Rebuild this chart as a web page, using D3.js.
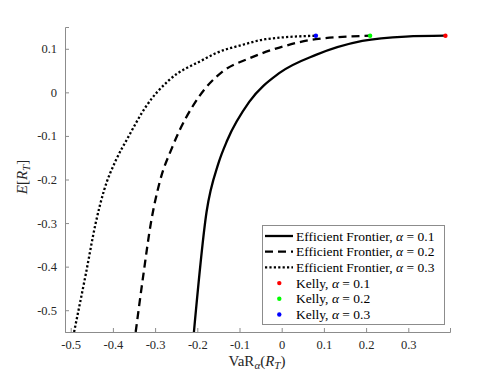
<!DOCTYPE html>
<html>
<head>
<meta charset="utf-8">
<script src="https://cdn.jsdelivr.net/npm/d3@7"></script>
<style>
  body { margin: 0; background: #fff; }
  text { font-family: "Liberation Serif", "DejaVu Serif", serif; }
</style>
</head>
<body>
<div id="chart"></div>
<script>
// Frontier curves: [VaR, E[R_T]]
const frontier01 = [[-0.208, -0.55], [-0.178, -0.274], [-0.150, -0.163], [-0.129, -0.110],
  [-0.077, -0.022], [-0.006, 0.044], [0.081, 0.086], [0.191, 0.118], [0.294, 0.128], [0.388, 0.130]];
const frontier02 = [[-0.346, -0.55], [-0.328, -0.42], [-0.310, -0.30], [-0.290, -0.209],
  [-0.259, -0.125], [-0.196, -0.010], [-0.141, 0.047], [-0.077, 0.078], [0.002, 0.105],
  [0.081, 0.122], [0.2095, 0.130]];
const frontier03 = [[-0.492, -0.55], [-0.464, -0.416], [-0.441, -0.301], [-0.421, -0.225],
  [-0.393, -0.156], [-0.365, -0.105], [-0.322, -0.033], [-0.267, 0.028], [-0.188, 0.074],
  [-0.156, 0.090], [-0.093, 0.109], [-0.038, 0.122], [0.081, 0.130]];
const kellyPoints = [
  { alpha: "0.1", x: 0.388, y: 0.130, color: "#ff0000" },
  { alpha: "0.2", x: 0.2095, y: 0.130, color: "#00ff00" },
  { alpha: "0.3", x: 0.081, y: 0.130, color: "#0000ff" }
];
const xTicks = [-0.5, -0.4, -0.3, -0.2, -0.1, 0, 0.1, 0.2, 0.3];
const yTicks = [0.1, 0, -0.1, -0.2, -0.3, -0.4, -0.5];

const W = 498, H = 374;
const margin = { top: 27, right: 48, bottom: 42, left: 65 },
      width = W - margin.left - margin.right,
      height = H - margin.top - margin.bottom;

const serif = '"Liberation Serif", "DejaVu Serif", serif';

const svg = d3.select("#chart").append("svg")
    .attr("width", W)
    .attr("height", H);
const g = svg.append("g")
    .attr("transform", `translate(${margin.left}, ${margin.top})`);

const x = d3.scaleLinear().domain([-0.5135, 0.3988]).range([0, width]);
const y = d3.scaleLinear().domain([-0.55, 0.15]).range([height, 0]);

const fmt = d => d === 0 ? "0" : d3.format(".1f")(d).replace("−", "-");
const axisColor = "#8c8c8c";

// axes
const xAxis = g.append("g")
    .attr("transform", `translate(0, ${height})`)
    .call(d3.axisBottom(x).tickValues(xTicks).tickSize(-4).tickPadding(8).tickFormat(fmt));
const yAxis = g.append("g")
    .call(d3.axisLeft(y).tickValues(yTicks).tickSize(-4).tickPadding(8).tickFormat(fmt));
[xAxis, yAxis].forEach(a => {
  a.attr("font-family", serif).attr("font-size", 12.5);
  a.select(".domain").attr("stroke", axisColor).attr("stroke-width", 1);
  a.selectAll(".tick line").attr("stroke", axisColor);
  a.selectAll(".tick text").attr("fill", "#262626");
});

// clip to plot area
g.append("clipPath").attr("id", "clip")
  .append("rect").attr("width", width).attr("height", height);

const line = d3.line()
    .x(d => x(d[0]))
    .y(d => y(d[1]))
    .curve(d3.curveMonotoneX);

const series = [
  { data: frontier01, dash: null, label: "0.1" },
  { data: frontier02, dash: "8,5", label: "0.2" },
  { data: frontier03, dash: "2.2,2.2", label: "0.3" }
];

series.forEach(s => {
  g.append("path")
    .datum(s.data)
    .attr("clip-path", "url(#clip)")
    .attr("fill", "none")
    .attr("stroke", "black")
    .attr("stroke-width", 2.3)
    .attr("stroke-dasharray", s.dash)
    .attr("d", line);
});

g.selectAll(".kelly")
  .data(kellyPoints)
  .enter().append("circle")
    .attr("cx", d => x(d.x))
    .attr("cy", d => y(d.y))
    .attr("r", 2.2)
    .attr("fill", d => d.color);

// axis labels
const xl = svg.append("text")
    .attr("x", 257)
    .attr("y", 366)
    .attr("text-anchor", "middle")
    .attr("fill", "#262626")
    .style("font-size", "15px");
xl.append("tspan").text("VaR");
xl.append("tspan").attr("font-style", "italic").attr("font-size", "11px").attr("dy", 3).text("α");
xl.append("tspan").attr("dy", -3).text("(");
xl.append("tspan").attr("font-style", "italic").text("R");
xl.append("tspan").attr("font-style", "italic").attr("font-size", "11px").attr("dy", 3).text("T");
xl.append("tspan").attr("dy", -3).text(")");

const yl = svg.append("text")
    .attr("transform", "translate(27, 177) rotate(-90)")
    .attr("text-anchor", "middle")
    .attr("fill", "#262626")
    .style("font-size", "15px");
yl.append("tspan").attr("font-style", "italic").text("E");
yl.append("tspan").text("[");
yl.append("tspan").attr("font-style", "italic").text("R");
yl.append("tspan").attr("font-style", "italic").attr("font-size", "11px").attr("dy", 3).text("T");
yl.append("tspan").attr("dy", -3).text("]");

// legend
const lg = svg.append("g");
lg.append("rect")
    .attr("x", 262.5).attr("y", 225.5)
    .attr("width", 182).attr("height", 99)
    .attr("fill", "white")
    .attr("stroke", axisColor)
    .attr("stroke-width", 1);

const rowY = i => 236 + i * 15.7;
series.forEach((s, i) => {
  lg.append("line")
    .attr("x1", 265).attr("x2", 293)
    .attr("y1", rowY(i)).attr("y2", rowY(i))
    .attr("stroke", "black").attr("stroke-width", 2.3)
    .attr("stroke-dasharray", s.dash);
  const t = lg.append("text")
    .attr("x", 296).attr("y", rowY(i) + 4.5)
    .attr("fill", "black")
    .style("font-size", "13.5px");
  t.append("tspan").text("Efficient Frontier, ");
  t.append("tspan").attr("font-style", "italic").text("α");
  t.append("tspan").text(" = " + s.label);
});
kellyPoints.forEach((k, j) => {
  const i = j + 3;
  lg.append("circle")
    .attr("cx", 279.3).attr("cy", rowY(i))
    .attr("r", 2.2).attr("fill", k.color);
  const t = lg.append("text")
    .attr("x", 296).attr("y", rowY(i) + 4.5)
    .attr("fill", "black")
    .style("font-size", "13.5px");
  t.append("tspan").text("Kelly, ");
  t.append("tspan").attr("font-style", "italic").text("α");
  t.append("tspan").text(" = " + k.alpha);
});
</script>
</body>
</html>
